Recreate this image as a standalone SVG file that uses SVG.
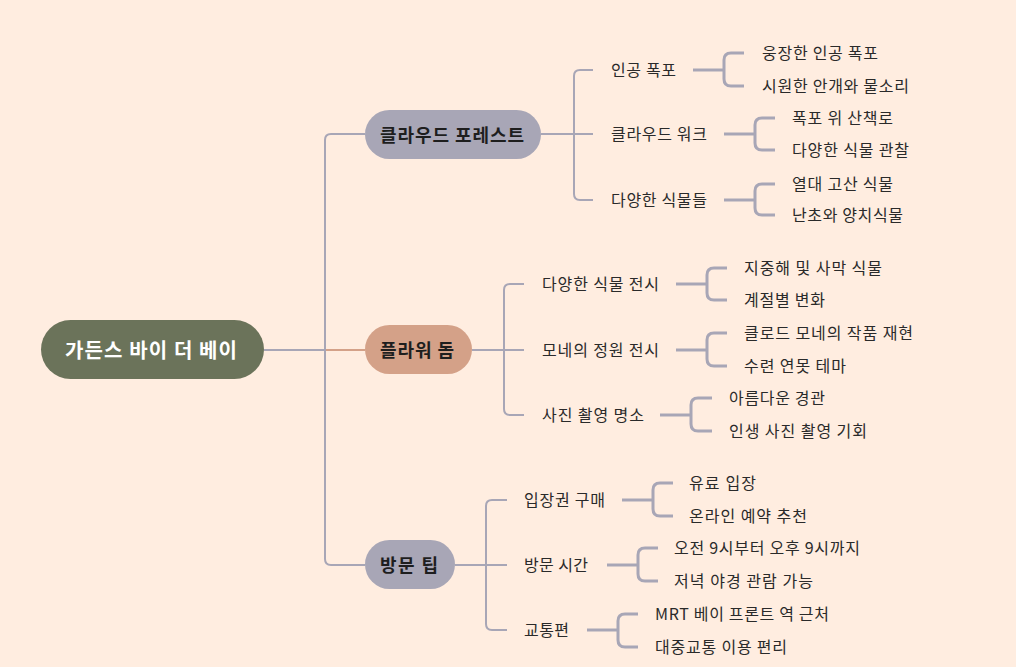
<svg xmlns="http://www.w3.org/2000/svg" width="1016" height="667" viewBox="0 0 1016 667">
<style>
.bg{fill:#ffede0}
.root{fill:#6b735a}
.gray{fill:#a8a6b6}
.salmon{fill:#d4a188}
.rt{font-family:"Noto Sans CJK KR","Noto Sans",sans-serif;font-size:20px;font-weight:bold;fill:#ffffff;text-anchor:middle;dominant-baseline:central}
.l1{font-family:"Noto Sans CJK KR","Noto Sans",sans-serif;font-size:18px;font-weight:bold;fill:#1e1e1e;text-anchor:middle;dominant-baseline:central}
.t{font-family:"Noto Sans CJK KR","Noto Sans",sans-serif;font-size:16px;fill:#2a2a2a;dominant-baseline:central}
.c1{fill:none;stroke:#a8a6b6;stroke-width:2}
.c1s{fill:none;stroke:#d4a188;stroke-width:2}
.c2{fill:none;stroke:#a8a6b6;stroke-width:2}
.c3{fill:none;stroke:#a8a6b6;stroke-width:3}
</style>
<rect class="bg" x="0" y="0" width="1016" height="667"/>
<g id="connectors">
  <path class="c1s" d="M264,350 H365"/>
  <path class="c1" d="M264,350 H325 V140 Q325,134 331,134 H365"/>
  <path class="c1" d="M264,350 H325 V559 Q325,565 331,565 H365"/>
  <path class="c2" d="M541,134 H593"/>
  <path class="c2" d="M593,70 H580 Q574,70 574,76 V194 Q574,200 580,200 H593"/>
  <path class="c2" d="M472,350 H524"/>
  <path class="c2" d="M524,284 H510 Q504,284 504,290 V409 Q504,415 510,415 H524"/>
  <path class="c2" d="M455,565 H507"/>
  <path class="c2" d="M507,500 H492 Q486,500 486,506 V624 Q486,630 492,630 H507"/>
  <path class="c3" d="M693,70 H724"/>
  <path class="c3" d="M744,53 H731 Q724,53 724,60 V79 Q724,86 731,86 H744"/>
  <path class="c3" d="M724,134 H755"/>
  <path class="c3" d="M775,118 H762 Q755,118 755,125 V143 Q755,150 762,150 H775"/>
  <path class="c3" d="M724,200 H755"/>
  <path class="c3" d="M775,184 H762 Q755,184 755,191 V208 Q755,215 762,215 H775"/>
  <path class="c3" d="M676,284 H707"/>
  <path class="c3" d="M727,268 H714 Q707,268 707,275 V293 Q707,300 714,300 H727"/>
  <path class="c3" d="M676,350 H707"/>
  <path class="c3" d="M727,333 H714 Q707,333 707,340 V359 Q707,366 714,366 H727"/>
  <path class="c3" d="M660,415 H691"/>
  <path class="c3" d="M712,398 H698 Q691,398 691,405 V424 Q691,431 698,431 H712"/>
  <path class="c3" d="M622,500 H653"/>
  <path class="c3" d="M673,483 H660 Q653,483 653,490 V509 Q653,516 660,516 H673"/>
  <path class="c3" d="M607,565 H638"/>
  <path class="c3" d="M658,548 H645 Q638,548 638,555 V574 Q638,581 645,581 H658"/>
  <path class="c3" d="M587,630 H618"/>
  <path class="c3" d="M638,614 H625 Q618,614 618,621 V640 Q618,647 625,647 H638"/>
</g>
<g id="root">
  <rect class="root" x="41" y="320" width="223" height="59" rx="29.5"/>
  <text class="rt" x="151" y="349" textLength="172" lengthAdjust="spacing">가든스 바이 더 베이</text>
</g>
<g id="cloud-forest">
  <rect class="gray" x="365" y="110" width="176" height="49" rx="24.5"/>
  <text class="l1" x="452" y="133.5" textLength="144" lengthAdjust="spacing">클라우드 포레스트</text>
</g>
<g id="flower-dome">
  <rect class="salmon" x="365" y="325" width="107" height="49" rx="24.5"/>
  <text class="l1" x="417" y="348.5" textLength="74" lengthAdjust="spacing">플라워 돔</text>
</g>
<g id="visit-tips">
  <rect class="gray" x="365" y="540" width="90" height="49" rx="24.5"/>
  <text class="l1" x="409" y="563.5" textLength="58" lengthAdjust="spacing">방문 팁</text>
</g>
<g id="artificial-waterfall"><text class="t" x="611" y="68.5" textLength="65" lengthAdjust="spacing">인공 폭포</text></g>
<g id="waterfall-1"><text class="t" x="762" y="51.5" textLength="116" lengthAdjust="spacing">웅장한 인공 폭포</text></g>
<g id="waterfall-2"><text class="t" x="762" y="84.5" textLength="147" lengthAdjust="spacing">시원한 안개와 물소리</text></g>
<g id="cloud-walk"><text class="t" x="611" y="132.5" textLength="96" lengthAdjust="spacing">클라우드 워크</text></g>
<g id="walk-1"><text class="t" x="792" y="116.5" textLength="101" lengthAdjust="spacing">폭포 위 산책로</text></g>
<g id="walk-2"><text class="t" x="792" y="148.5" textLength="117" lengthAdjust="spacing">다양한 식물 관찰</text></g>
<g id="various-plants"><text class="t" x="611" y="198.5" textLength="96" lengthAdjust="spacing">다양한 식물들</text></g>
<g id="plants-1"><text class="t" x="792" y="182.5" textLength="101" lengthAdjust="spacing">열대 고산 식물</text></g>
<g id="plants-2"><text class="t" x="792" y="213.5" textLength="111" lengthAdjust="spacing">난초와 양치식물</text></g>
<g id="plant-display"><text class="t" x="542" y="282.5" textLength="117" lengthAdjust="spacing">다양한 식물 전시</text></g>
<g id="display-1"><text class="t" x="744" y="266.5" textLength="138" lengthAdjust="spacing">지중해 및 사막 식물</text></g>
<g id="display-2"><text class="t" x="744" y="298.5" textLength="81" lengthAdjust="spacing">계절별 변화</text></g>
<g id="monet-garden"><text class="t" x="542" y="348.5" textLength="117" lengthAdjust="spacing">모네의 정원 전시</text></g>
<g id="monet-1"><text class="t" x="744" y="331.5" textLength="169" lengthAdjust="spacing">클로드 모네의 작품 재현</text></g>
<g id="monet-2"><text class="t" x="744" y="364.5" textLength="102" lengthAdjust="spacing">수련 연못 테마</text></g>
<g id="photo-spot"><text class="t" x="542" y="413.5" textLength="102" lengthAdjust="spacing">사진 촬영 명소</text></g>
<g id="photo-1"><text class="t" x="729" y="396.5" textLength="96" lengthAdjust="spacing">아름다운 경관</text></g>
<g id="photo-2"><text class="t" x="729" y="429.5" textLength="138" lengthAdjust="spacing">인생 사진 촬영 기회</text></g>
<g id="tickets"><text class="t" x="524" y="498.5" textLength="81" lengthAdjust="spacing">입장권 구매</text></g>
<g id="tickets-1"><text class="t" x="689" y="481.5" textLength="67" lengthAdjust="spacing">유료 입장</text></g>
<g id="tickets-2"><text class="t" x="689" y="514.5" textLength="118" lengthAdjust="spacing">온라인 예약 추천</text></g>
<g id="visit-time"><text class="t" x="524" y="563.5" textLength="64" lengthAdjust="spacing">방문 시간</text></g>
<g id="time-1"><text class="t" x="674" y="546.5" textLength="186" lengthAdjust="spacing">오전 9시부터 오후 9시까지</text></g>
<g id="time-2"><text class="t" x="674" y="579.5" textLength="139" lengthAdjust="spacing">저녁 야경 관람 가능</text></g>
<g id="transport"><text class="t" x="524" y="628.5" textLength="45" lengthAdjust="spacing">교통편</text></g>
<g id="transport-1"><text class="t" x="655" y="612.5" textLength="174" lengthAdjust="spacing">MRT 베이 프론트 역 근처</text></g>
<g id="transport-2"><text class="t" x="655" y="645.5" textLength="132" lengthAdjust="spacing">대중교통 이용 편리</text></g>
</svg>
